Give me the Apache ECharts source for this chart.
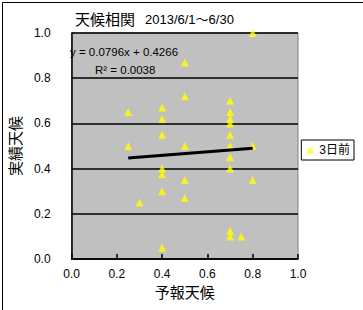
<!DOCTYPE html>
<html><head><meta charset="utf-8">
<script src="https://cdn.jsdelivr.net/npm/echarts@6/dist/echarts.min.js"></script>
<style>html,body{margin:0;padding:0;background:#fff}#c{width:363px;height:310px}</style>
</head><body><div id="c"></div>
<script>
const forecastX = [0.8,0.5,0.5,0.4,0.7,0.25,0.4,0.7,0.7,0.7,0.4,0.7,0.25,0.5,0.7,0.8,0.7,0.4,0.7,0.4,0.5,0.8,0.4,0.5,0.3,0.7,0.7,0.75,0.4];
const actualY   = [1.0,0.87,0.72,0.67,0.70,0.65,0.62,0.65,0.62,0.60,0.55,0.55,0.50,0.50,0.50,0.50,0.45,0.40,0.40,0.375,0.35,0.35,0.30,0.27,0.25,0.125,0.10,0.10,0.05];
const trendX = [0.25, 0.8];
const trendY = [0.4465, 0.4903];
const tickLabels = ['0.0','0.2','0.4','0.6','0.8','1.0'];
const seriesName = '3日前';
const titleMain = '天候相関';
const titleSub = '2013/6/1～6/30';
const eqText = 'y = 0.0796x + 0.4266';
const r2Text = 'R² = 0.0038';

const FF = "'Liberation Sans','Noto Sans CJK JP',sans-serif";
const chart = echarts.init(document.getElementById('c'), null, {renderer:'svg'});
const fmt = v => tickLabels[Math.round(v*5)];
chart.setOption({
  animation:false,
  backgroundColor:'#fff',
  textStyle:{fontFamily:FF},
  title:{
    left:70, top:6,
    text:'{a|'+titleMain+'}  {b|'+titleSub+'}',
    textStyle:{fontWeight:'normal',rich:{
      a:{fontSize:15,fontFamily:FF,color:'#000',fontWeight:'normal'},
      b:{fontSize:13,fontFamily:FF,color:'#000',fontWeight:'normal'}
    }}
  },
  grid:{left:64,right:65,top:33,bottom:51,show:true,backgroundColor:'#C0C0C0',borderColor:'#808080',borderWidth:1},
  legend:{
    right:9, top:140, orient:'vertical',
    backgroundColor:'#fff', borderColor:'#000', borderWidth:1,
    padding:[4,4,4,5], itemWidth:8, itemHeight:7, itemGap:2,
    textStyle:{fontSize:12,color:'#000',fontFamily:FF},
    data:[{name:seriesName, icon:'triangle'}]
  },
  xAxis:{
    type:'value', min:0, max:1, interval:0.2,
    name:'予報天候', nameLocation:'middle', nameGap:26,
    nameTextStyle:{fontSize:15,color:'#000',fontFamily:FF},
    axisLine:{show:true,onZero:false,lineStyle:{color:'#000',width:1.5}},
    axisTick:{show:true,inside:true,length:5,lineStyle:{color:'#000',width:1.5}},
    axisLabel:{margin:9,fontSize:12,color:'#000',formatter:fmt,fontFamily:FF},
    splitLine:{show:false}
  },
  yAxis:{
    type:'value', min:0, max:1, interval:0.2,
    name:'実績天候', nameLocation:'middle', nameGap:40, nameRotate:90,
    nameTextStyle:{fontSize:15,color:'#000',fontFamily:FF},
    axisLine:{show:true,onZero:false,lineStyle:{color:'#000',width:1.5}},
    axisTick:{show:false},
    axisLabel:{margin:21,fontSize:12,color:'#000',formatter:fmt,fontFamily:FF},
    splitLine:{show:true,lineStyle:{color:'#000',width:1.5}}
  },
  series:[
    {
      name:seriesName, type:'scatter', symbol:'triangle', symbolSize:[8,8],
      itemStyle:{color:'#FFFF00'},
      data:forecastX.map((x,i)=>[x,actualY[i]]), z:3
    },
    {
      name:'trend', type:'line', symbol:'none', silent:true,
      lineStyle:{color:'#000',width:3},
      data:trendX.map((x,i)=>[x,trendY[i]]), z:4
    }
  ],
  graphic:[
    {type:'rect',left:0,top:0,shape:{x:0.5,y:0.5,width:362,height:309},style:{fill:'none',stroke:'#000',lineWidth:1},silent:true},
    {type:'text',left:70,top:46,style:{text:eqText,fontSize:11.5,fontFamily:FF,fill:'#000'},z:10},
    {type:'text',left:95,top:64,style:{text:r2Text,fontSize:11.5,fontFamily:FF,fill:'#000'},z:10}
  ]
});
</script></body></html>
